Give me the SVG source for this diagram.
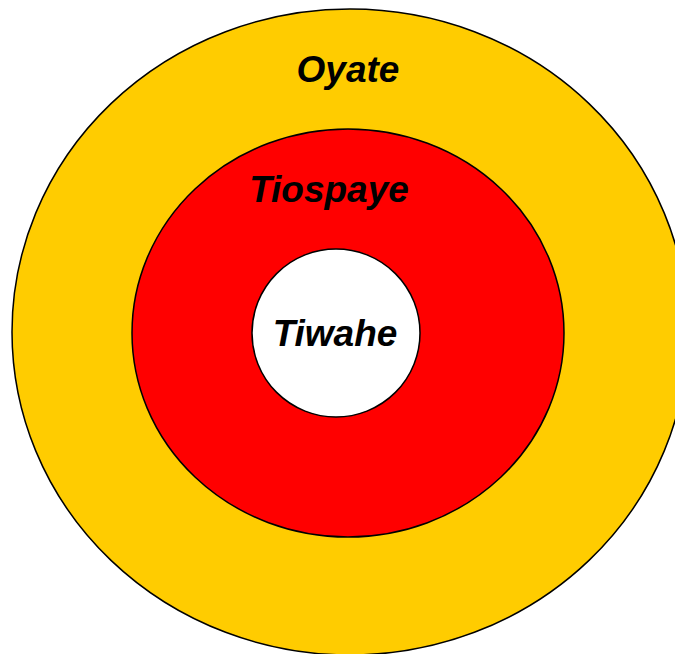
<svg xmlns="http://www.w3.org/2000/svg" width="675" height="654" viewBox="0 0 675 654">
<style>
.ring{stroke:#000;stroke-width:1.5}
.lbl{font-family:"Liberation Sans",Arial,sans-serif;font-weight:bold;font-style:italic;font-size:37px;fill:#000;text-anchor:middle}
</style>
<rect width="675" height="654" fill="#fff"/>
<g id="oyate">
<ellipse class="ring" cx="350" cy="332" rx="338" ry="323" fill="#FFCC00"/>
<text class="lbl" x="348" y="82">Oyate</text>
</g>
<g id="tiospaye">
<ellipse class="ring" cx="348" cy="333" rx="216" ry="204" fill="#FF0000"/>
<text class="lbl" x="329" y="202">Tiospaye</text>
</g>
<g id="tiwahe">
<circle class="ring" cx="336" cy="333" r="84" fill="#FFFFFF"/>
<text class="lbl" x="335" y="346">Tiwahe</text>
</g>
<g id="connectors"/>
</svg>
